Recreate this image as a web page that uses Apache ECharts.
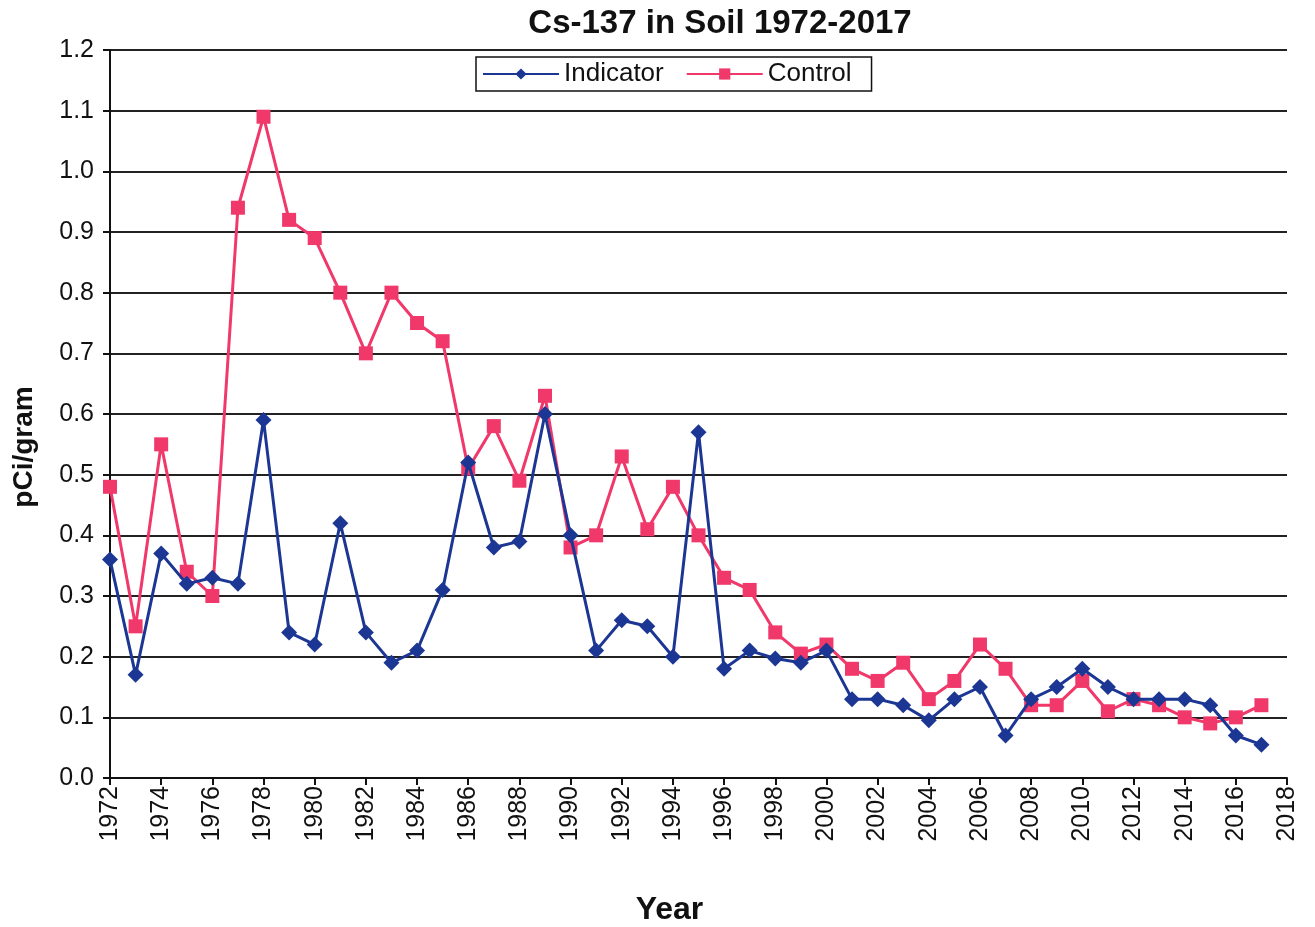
<!DOCTYPE html>
<html>
<head>
<meta charset="utf-8">
<script src="https://cdn.jsdelivr.net/npm/echarts@6/dist/echarts.min.js"></script>
<style>
  html, body { margin: 0; padding: 0; background: #fff; }
  #chart { width: 1315px; height: 927px; }
</style>
</head>
<body>
<div id="chart"></div>
<script>
// years 1972..2017
var years = [];
for (var y = 1972; y <= 2017; y++) years.push(y);

var indicator = [0.36, 0.17, 0.37, 0.32, 0.33, 0.32, 0.59, 0.24, 0.22, 0.42,
  0.24, 0.19, 0.21, 0.31, 0.52, 0.38, 0.39, 0.60, 0.40, 0.21,
  0.26, 0.25, 0.20, 0.57, 0.18, 0.21, 0.197, 0.19, 0.21, 0.13,
  0.13, 0.12, 0.095, 0.13, 0.15, 0.07, 0.13, 0.15, 0.18, 0.15,
  0.13, 0.13, 0.13, 0.12, 0.07, 0.055];

var control = [0.48, 0.25, 0.55, 0.34, 0.30, 0.94, 1.09, 0.92, 0.89, 0.80,
  0.70, 0.80, 0.75, 0.72, 0.51, 0.58, 0.49, 0.63, 0.38, 0.40,
  0.53, 0.41, 0.48, 0.40, 0.33, 0.31, 0.24, 0.205, 0.22, 0.18,
  0.16, 0.19, 0.13, 0.16, 0.22, 0.18, 0.12, 0.12, 0.16, 0.11,
  0.13, 0.12, 0.10, 0.09, 0.10, 0.12];

function pairs(vals) {
  return vals.map(function (v, i) { return [years[i], v]; });
}

var chart = echarts.init(document.getElementById('chart'));
var font = 'Liberation Sans, Arial, sans-serif';

var option = {
  backgroundColor: '#fff',
  animation: false,
  title: {
    text: 'Cs-137 in Soil 1972-2017',
    left: 715,
    top: 2,
    textAlign: 'center',
    textStyle: { fontFamily: font, fontSize: 33, fontWeight: 'bold', color: '#111' }
  },
  legend: {
    left: 476,
    top: 57,
    padding: [4, 20, 4, 6],
    borderColor: '#111',
    borderWidth: 1.5,
    itemWidth: 76,
    itemHeight: 14,
    itemGap: 22,
    textStyle: { fontFamily: font, fontSize: 26, color: '#111' },
    data: ['Indicator', 'Control']
  },
  grid: { left: 110, right: 28, top: 50, bottom: 149, outerBoundsMode: 'none' },
  xAxis: {
    type: 'value',
    min: 1972,
    max: 2018,
    interval: 2,
    name: 'Year',
    nameLocation: 'middle',
    nameGap: 116,
    nameTextStyle: { fontFamily: font, fontSize: 32, fontWeight: 'bold', color: '#111', padding: [0, 58, 0, 0] },
    axisLine: { lineStyle: { color: '#111', width: 2 } },
    axisTick: { length: 7, lineStyle: { color: '#111', width: 2 } },
    axisLabel: {
      rotate: 90,
      margin: 8,
      fontFamily: font,
      fontSize: 25,
      color: '#111',
      formatter: function (v) { return String(v); }
    },
    splitLine: { show: false }
  },
  yAxis: {
    type: 'value',
    min: 0,
    max: 1.2,
    interval: 0.1,
    name: 'pCi/gram',
    nameLocation: 'middle',
    nameGap: 72,
    nameRotate: 90,
    nameTextStyle: { fontFamily: font, fontSize: 28, fontWeight: 'bold', color: '#111', padding: [0, 66, 0, 0] },
    axisLine: { show: true, lineStyle: { color: '#111', width: 2 } },
    axisTick: { show: true, length: 7, lineStyle: { color: '#111', width: 2 } },
    axisLabel: {
      margin: 16,
      fontFamily: font,
      fontSize: 25,
      color: '#111',
      formatter: function (v) { return v.toFixed(1); }
    },
    splitLine: { lineStyle: { color: '#222', width: 2 } }
  },
  series: [
    {
      name: 'Indicator',
      type: 'line',
      data: pairs(indicator),
      symbol: 'diamond',
      symbolSize: 16,
      color: '#1c3693',
      lineStyle: { width: 3, color: '#1c3693' },
      itemStyle: { color: '#1c3693' },
      z: 3
    },
    {
      name: 'Control',
      type: 'line',
      data: pairs(control),
      symbol: 'rect',
      symbolSize: 14,
      color: '#f0386a',
      lineStyle: { width: 3, color: '#f0386a' },
      itemStyle: { color: '#f0386a' },
      z: 2
    }
  ]
};

chart.setOption(option);
</script>
</body>
</html>
